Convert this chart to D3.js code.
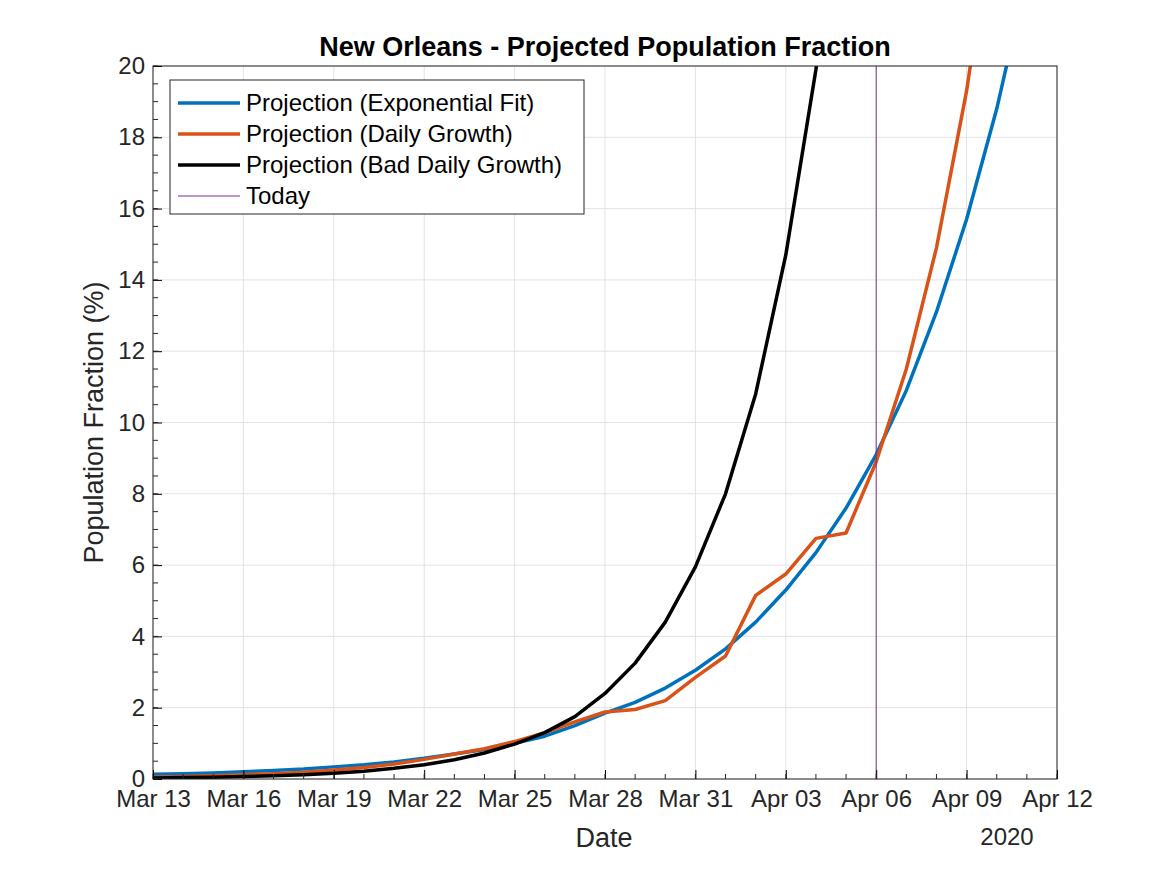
<!DOCTYPE html><html><head><script src="https://cdn.jsdelivr.net/npm/d3@7"></script>
<style>body{margin:0;background:#fff}text{font-family:Helvetica,"Liberation Sans",Arial,sans-serif}</style></head><body>
<svg id="c" width="1167" height="875"></svg>
<script>
const startDate="2020-03-13";
const blue=[0.13,0.15,0.17,0.2,0.24,0.28,0.34,0.4,0.48,0.58,0.7,0.83,1.0,1.2,1.5,1.85,2.15,2.55,3.05,3.65,4.4,5.3,6.35,7.6,9.1,10.9,13.1,15.7,18.8,22.5];
const orange=[0.05,0.07,0.09,0.12,0.15,0.19,0.25,0.32,0.42,0.55,0.7,0.85,1.05,1.3,1.6,1.88,1.95,2.2,2.85,3.45,5.15,5.75,6.75,6.9,8.9,11.5,14.9,19.3,25];
const black=[0.03,0.04,0.05,0.07,0.09,0.12,0.16,0.22,0.3,0.4,0.54,0.73,0.98,1.3,1.75,2.4,3.25,4.4,5.95,8.0,10.8,14.7,19.9,27];
const today="2020-04-06";
const xTicks=["2020-03-13","2020-03-16","2020-03-19","2020-03-22","2020-03-25","2020-03-28","2020-03-31","2020-04-03","2020-04-06","2020-04-09","2020-04-12"];
const yTicks=[0,2,4,6,8,10,12,14,16,18,20];
const series=[{name:"Projection (Exponential Fit)",v:blue,c:"#0072BD"},{name:"Projection (Daily Growth)",v:orange,c:"#D95319"},{name:"Projection (Bad Daily Growth)",v:black,c:"#000000"}];

const P=d3.timeParse("%Y-%m-%d"), fmt=d3.timeFormat("%b %d");
const L=153,R=1057,T=66,B=779;
const x=d3.scaleTime().domain([P(startDate),P("2020-04-12")]).range([L,R]);
const y=d3.scaleLinear().domain([0,20]).range([B,T]);
const svg=d3.select("#c");
const day=i=>d3.timeDay.offset(P(startDate),i);
svg.append("g").selectAll("line").data(xTicks).join("line").attr("x1",d=>x(P(d))).attr("x2",d=>x(P(d))).attr("y1",T).attr("y2",B).attr("stroke","#e3e3e3");
svg.append("g").selectAll("line").data(yTicks).join("line").attr("y1",d=>y(d)).attr("y2",d=>y(d)).attr("x1",L).attr("x2",R).attr("stroke","#e3e3e3");
svg.append("defs").append("clipPath").attr("id","cp").append("rect").attr("x",L).attr("y",T).attr("width",R-L).attr("height",B-T);
const g=svg.append("g").attr("clip-path","url(#cp)");
const line=d3.line().x((d,i)=>x(day(i))).y(d=>y(d));
series.forEach(s=>g.append("path").attr("d",line(s.v)).attr("fill","none").attr("stroke",s.c).attr("stroke-width",3.5).attr("stroke-linejoin","round"));
g.append("line").attr("x1",x(P(today))).attr("x2",x(P(today))).attr("y1",T).attr("y2",B).attr("stroke","#7E2F8E").attr("stroke-width",1);
svg.append("rect").attr("x",L).attr("y",T).attr("width",R-L).attr("height",B-T).attr("fill","none").attr("stroke","#262626");
const xa=svg.append("g").attr("transform",`translate(0,${B})`).call(d3.axisBottom(x).tickValues(xTicks.map(P)).tickFormat(fmt).tickSizeInner(-9).tickSizeOuter(0));
xa.select(".domain").remove();
xa.selectAll("text").attr("font-size",24).attr("dy","1.05em").attr("fill","#262626");
const ya=svg.append("g").attr("transform",`translate(${L},0)`).call(d3.axisLeft(y).tickValues(yTicks).tickSizeInner(-9).tickSizeOuter(0));
ya.select(".domain").remove();
ya.selectAll("text").attr("font-size",24).attr("x",-8).attr("fill","#262626");
svg.append("g").selectAll("line").data(d3.range(0,20.01,0.5)).join("line").attr("x1",L).attr("x2",L+5).attr("y1",d=>y(d)).attr("y2",d=>y(d)).attr("stroke","#262626");
svg.append("g").selectAll("line").data(d3.range(0,31)).join("line").attr("x1",i=>x(day(i))).attr("x2",i=>x(day(i))).attr("y1",B).attr("y2",B-5).attr("stroke","#262626");
svg.append("text").attr("x",(L+R)/2).attr("y",56).attr("text-anchor","middle").attr("font-size",27).attr("font-weight","bold").text("New Orleans - Projected Population Fraction");
svg.append("text").attr("x",604).attr("y",847).attr("text-anchor","middle").attr("font-size",27).attr("fill","#262626").text("Date");
svg.append("text").attr("x",1007).attr("y",845).attr("text-anchor","middle").attr("font-size",24).attr("fill","#262626").text("2020");
svg.append("text").attr("transform",`translate(103,${(T+B)/2}) rotate(-90)`).attr("text-anchor","middle").attr("font-size",27).attr("fill","#262626").text("Population Fraction (%)");
const lg=svg.append("g");
lg.append("rect").attr("x",170).attr("y",80).attr("width",414).attr("height",134).attr("fill","#fff").attr("stroke","#262626");
const items=[...series,{name:"Today",c:"#7E2F8E",w:1}];
items.forEach((s,i)=>{const yy=103+i*31;
lg.append("line").attr("x1",178).attr("x2",240).attr("y1",yy).attr("y2",yy).attr("stroke",s.c).attr("stroke-width",s.w||3.5);
lg.append("text").attr("x",246).attr("y",yy+8).attr("font-size",24).attr("fill","#000").text(s.name);});
</script></body></html>
